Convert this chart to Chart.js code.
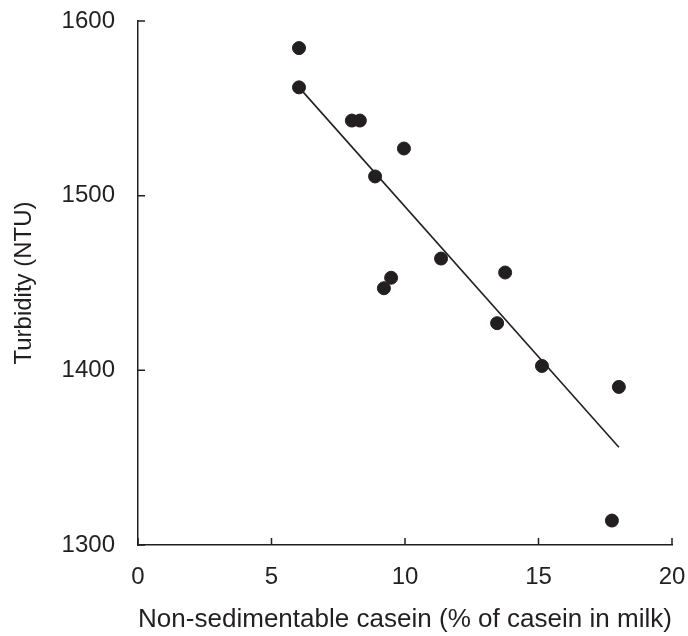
<!DOCTYPE html>
<html>
<head>
<meta charset="utf-8">
<script src="https://cdn.jsdelivr.net/npm/chart.js@4.4.1/dist/chart.umd.min.js"></script>
<style>
  html, body { margin: 0; padding: 0; background: #fff; }
  #wrap { width: 688px; height: 636px; }
</style>
</head>
<body>
<div id="wrap"><canvas id="chart" width="688" height="636"></canvas></div>
<script>
// measured points
const caseinPct = [6.03, 6.03, 8.01, 8.31, 9.96, 8.88, 11.35, 13.75, 9.48, 9.21, 13.45, 15.13, 18.01, 17.75];
const turbidity = [1584.5, 1562, 1543, 1543, 1527, 1511, 1464, 1456, 1453, 1447, 1427, 1402.5, 1390.5, 1314];
// fitted line end points
const fitX = [6.03, 18.01];
const fitY = [1562, 1356];
const xTicks = [0, 5, 10, 15, 20];
const yTicks = [1300, 1400, 1500, 1600];

const ink = '#231f20';
const fontFamily = '"Liberation Sans", Arial, Helvetica, sans-serif';

// tick marks point inward, so draw them ourselves
const innerTicks = {
  id: 'innerTicks',
  afterDraw(chart) {
    const { ctx, scales: { x, y } } = chart;
    ctx.save();
    ctx.strokeStyle = ink;
    ctx.lineWidth = 1.5;
    ctx.beginPath();
    xTicks.forEach(v => {
      const px = x.getPixelForValue(v);
      ctx.moveTo(px, y.bottom);
      ctx.lineTo(px, y.bottom - 7);
    });
    yTicks.forEach(v => {
      const py = y.getPixelForValue(v);
      ctx.moveTo(x.left, py);
      ctx.lineTo(x.left + 7, py);
    });
    ctx.stroke();
    ctx.restore();
  }
};

new Chart(document.getElementById('chart'), {
  type: 'scatter',
  data: {
    datasets: [
      {
        label: 'samples',
        data: caseinPct.map((v, i) => ({ x: v, y: turbidity[i] })),
        backgroundColor: ink,
        borderColor: ink,
        pointRadius: 6.5,
        pointHoverRadius: 6.5,
        order: 1
      },
      {
        label: 'fit',
        type: 'line',
        data: fitX.map((v, i) => ({ x: v, y: fitY[i] })),
        borderColor: ink,
        borderWidth: 1.6,
        pointRadius: 0,
        fill: false,
        order: 2
      }
    ]
  },
  options: {
    responsive: false,
    animation: false,
    events: [],
    layout: { padding: { top: 21, right: 16, left: 0, bottom: 0 } },
    plugins: { legend: { display: false }, tooltip: { enabled: false } },
    scales: {
      x: {
        type: 'linear',
        min: 0,
        max: 20,
        afterBuildTicks(scale) { scale.ticks = xTicks.map(v => ({ value: v })); },
        afterFit(scale) {
          scale.height = 91;
          scale.paddingLeft = 0;
          scale.paddingRight = 0;
        },
        grid: { display: false, drawTicks: false },
        border: { display: true, color: ink, width: 1.5 },
        ticks: {
          color: ink, padding: 18, maxRotation: 0,
          font: { family: fontFamily, size: 24 },
          callback: v => String(v)
        },
        title: {
          display: true,
          text: 'Non-sedimentable casein (% of casein in milk)',
          color: ink,
          font: { family: fontFamily, size: 26.5 },
          padding: { top: 0, bottom: 0 }
        }
      },
      y: {
        type: 'linear',
        min: 1300,
        max: 1600,
        afterBuildTicks(scale) { scale.ticks = yTicks.map(v => ({ value: v })); },
        afterFit(scale) {
          scale.width = 138;
          scale.paddingTop = 0;
          scale.paddingBottom = 0;
        },
        grid: { display: false, drawTicks: false },
        border: { display: true, color: ink, width: 1.5 },
        ticks: {
          color: ink, padding: 23,
          font: { family: fontFamily, size: 24 },
          callback: v => String(v)
        },
        title: {
          display: true,
          text: 'Turbidity (NTU)',
          color: ink,
          font: { family: fontFamily, size: 24 },
          padding: { top: 10, bottom: 0 }
        }
      }
    }
  },
  plugins: [innerTicks]
});
</script>
</body>
</html>
